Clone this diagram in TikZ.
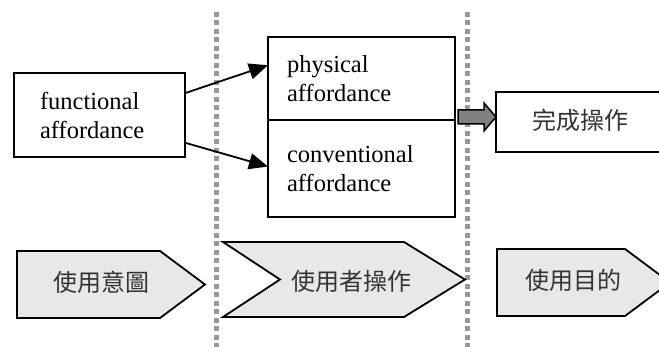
\documentclass[tikz,border=0pt]{standalone}
\usepackage{fontspec}
\setmainfont{Liberation Serif}
\newfontfamily\cjk{Noto Sans CJK TC}
\usepackage{xcolor}
\usetikzlibrary{arrows.meta,shapes,positioning,calc}

\begin{document}
\begin{tikzpicture}[x=1pt,y=-1pt,
  box/.style={draw,line width=2pt,outer sep=0pt,inner ysep=0pt,
              align=left,font=\fontsize{24.5}{29}\selectfont},
  tagshape/.style={draw,line width=1.8pt,fill=black!9,line join=miter},
  tagtext/.style={inner sep=0pt,text=black!80,font=\cjk\fontsize{24}{28}\selectfont},
  sep/.style={draw=black!40,line width=5pt,dash pattern=on 5pt off 3.5pt},
  link/.style={-{Triangle[length=19pt,width=16pt]},line width=1.8pt}]
  \useasboundingbox (0,0) rectangle (659,347);

  % dotted separators
  \draw[sep] (216,12) -- (216,347);
  \draw[sep] (467,12) -- (467,347);

  % top row
  \node[box,inner xsep=26pt,text width=119pt,minimum height=84pt] (func) at (99.5,115)
    {functional\\affordance};
  \node[box,inner xsep=19pt,text width=149pt,minimum height=83pt] (phys) at (361.5,78.5)
    {physical\\affordance};
  \node[box,inner xsep=19pt,text width=149pt,minimum height=97pt,below=0pt of phys] (conv)
    {conventional\\affordance};
  \node[box,minimum width=176pt,minimum height=60pt] (done) at (584,122) {};
  \node[tagtext] (donetext) at (580,120) {完成操作};

  \draw[link] ($(func.north east)!0.24!(func.south east)$) -- ($(phys.north west)!0.34!(phys.south west)$);
  \draw[link] ($(func.north east)!0.83!(func.south east)$) -- ($(conv.north west)!0.48!(conv.south west)$);

  % block arrow into done
  \coordinate (go) at (458,117);
  \draw[line width=1.5pt,fill=black!50,line join=miter]
    (go) ++(0,-7) -- ++(26,0) -- ++(0,-7) -- (done.west |- go) -- ++(-12,14)
    -- ++(0,-7) -- ++(-26,0) -- cycle;

  % bottom row
  \draw[tagshape] (17,251) -- (160,251) -- (205,284.5) -- (160,318) -- (17,318) -- cycle;
  \node[tagtext] (intent) at (101,282) {使用意圖};
  \draw[tagshape] (223,242) -- (404,242) -- (465,279.5) -- (404,317) -- (223,317)
    -- (280,279.5) -- cycle;
  \node[tagtext] (oper) at (351,281) {使用者操作};
  \draw[tagshape] (497,249) -- (625,249) -- (670,282.5) -- (625,316) -- (497,316) -- cycle;
  \node[tagtext] (goal) at (573,280) {使用目的};
\end{tikzpicture}
\end{document}
